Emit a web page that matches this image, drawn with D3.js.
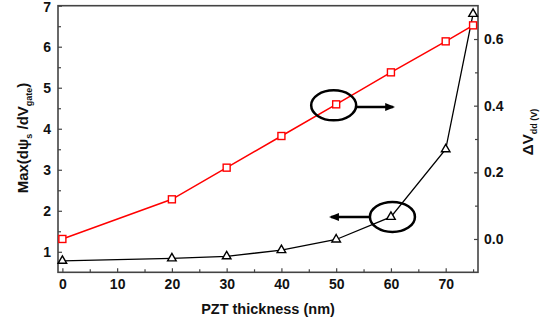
<!DOCTYPE html>
<html><head><meta charset="utf-8">
<script src="https://cdn.jsdelivr.net/npm/d3@7"></script>
<style>
body{margin:0;background:#fff;}
text{font-family:"Liberation Sans",Arial,sans-serif;font-weight:bold;}
</style></head>
<body><svg id="c" width="552" height="324"></svg>
<script>
const thickness = [0, 20, 30, 40, 50, 60, 70, 75];
const maxSlope = [0.78, 0.84, 0.89, 1.04, 1.30, 1.85, 3.50, 6.80];
const deltaVdd = [0.0, 0.119, 0.214, 0.309, 0.404, 0.50, 0.593, 0.641];
const xTicks = [0, 10, 20, 30, 40, 50, 60, 70];
const yLeftTicks = [1, 2, 3, 4, 5, 6, 7];
const yRightTicks = [0.0, 0.2, 0.4, 0.6];

const svg = d3.select("#c");
const L = 58, R = 478, T = 5.7, B = 272.3;
const x = d3.scaleLinear().domain([-0.8, 75.9]).range([L, R]);
const yL = d3.scaleLinear().domain([0.5, 7]).range([B, T]);
const yR = d3.scaleLinear().domain([-0.1, 0.7]).range([B, T]);
const axisColor = "#444";

// frame
svg.append("rect").attr("x", L).attr("y", T).attr("width", R - L).attr("height", B - T)
  .attr("fill", "none").attr("stroke", axisColor).attr("stroke-width", 1.6);

function styleAxis(g){
  g.select(".domain").remove();
  g.selectAll(".tick line").attr("stroke", axisColor).attr("stroke-width", 1.2);
  g.selectAll(".tick text").attr("fill", "#111").attr("font-size", 14);
}

// x axis
const gx = svg.append("g").attr("transform", `translate(0,${B})`)
  .call(d3.axisBottom(x).tickValues(xTicks).tickSize(-4).tickPadding(7).tickFormat(d3.format("d")));
styleAxis(gx);
const gxm = svg.append("g").attr("transform", `translate(0,${B})`)
  .call(d3.axisBottom(x).tickValues(d3.range(5, 76, 10)).tickSize(-3).tickFormat(""));
styleAxis(gxm);

// left axis
const gl = svg.append("g").attr("transform", `translate(${L},0)`)
  .call(d3.axisLeft(yL).tickValues(yLeftTicks).tickSize(-4).tickPadding(7).tickFormat(d3.format("d")));
styleAxis(gl);
gl.selectAll(".tick text").filter(d => d === 7).attr("y", 1.5);
const glm = svg.append("g").attr("transform", `translate(${L},0)`)
  .call(d3.axisLeft(yL).tickValues(d3.range(1.5, 7, 1)).tickSize(-3).tickFormat(""));
styleAxis(glm);

// right axis
const gr = svg.append("g").attr("transform", `translate(${R},0)`)
  .call(d3.axisRight(yR).tickValues(yRightTicks).tickSize(-4).tickPadding(6).tickFormat(d3.format(".1f")));
styleAxis(gr);
const grm = svg.append("g").attr("transform", `translate(${R},0)`)
  .call(d3.axisRight(yR).tickValues([0.1, 0.3, 0.5]).tickSize(-3).tickFormat(""));
styleAxis(grm);

// lines
const red = "#ff0000";
const blackLine = d3.line().x((d, i) => x(thickness[i])).y(d => yL(d));
const redLine = d3.line().x((d, i) => x(thickness[i])).y(d => yR(d));
svg.append("path").attr("d", redLine(deltaVdd)).attr("fill", "none").attr("stroke", red).attr("stroke-width", 1.5);
svg.append("path").attr("d", blackLine(maxSlope)).attr("fill", "none").attr("stroke", "#000").attr("stroke-width", 1.3);

// markers
svg.selectAll("rect.sq").data(deltaVdd).enter().append("rect").attr("class", "sq")
  .attr("x", (d, i) => x(thickness[i]) - 3.5).attr("y", d => yR(d) - 3.5)
  .attr("width", 7).attr("height", 7).attr("fill", "#fff").attr("stroke", red).attr("stroke-width", 1.4);
const tri = d3.symbol().type(d3.symbolTriangle).size(32);
svg.selectAll("path.tr").data(maxSlope).enter().append("path").attr("class", "tr")
  .attr("d", tri).attr("transform", (d, i) => `translate(${x(thickness[i])},${yL(d)})`)
  .attr("fill", "#fff").attr("stroke", "#000").attr("stroke-width", 1.4);

// annotations: ellipses & arrows
const defs = svg.append("defs");
defs.append("marker").attr("id", "ah").attr("viewBox", "0 0 10 10").attr("refX", 8).attr("refY", 5)
  .attr("markerWidth", 4).attr("markerHeight", 4).attr("orient", "auto")
  .append("path").attr("d", "M0,1 L10,5 L0,9 Z").attr("fill", "#000");
svg.append("ellipse").attr("cx", x(50) - 2.5).attr("cy", yR(0.404) + 1).attr("rx", 22.5).attr("ry", 15)
  .attr("fill", "none").attr("stroke", "#000").attr("stroke-width", 2.5);
svg.append("line").attr("x1", x(50) + 20).attr("y1", yR(0.404) + 2.7).attr("x2", x(50) + 57).attr("y2", yR(0.404) + 2.7)
  .attr("stroke", "#000").attr("stroke-width", 2.5).attr("marker-end", "url(#ah)");
svg.append("ellipse").attr("cx", x(60) + 1.5).attr("cy", yL(1.85)).attr("rx", 22.5).attr("ry", 15)
  .attr("fill", "none").attr("stroke", "#000").attr("stroke-width", 2.5);
svg.append("line").attr("x1", x(60) - 21).attr("y1", yL(1.85)).attr("x2", x(60) - 60).attr("y2", yL(1.85))
  .attr("stroke", "#000").attr("stroke-width", 2.5).attr("marker-end", "url(#ah)");

// axis titles
svg.append("text").attr("x", 268).attr("y", 314).attr("text-anchor", "middle").attr("font-size", 14.5)
  .attr("fill", "#111").text("PZT thickness (nm)");
const lt = svg.append("text").attr("transform", "translate(28,138) rotate(-90)").attr("text-anchor", "middle")
  .attr("font-size", 15).attr("fill", "#111");
lt.append("tspan").text("Max(dψ");
lt.append("tspan").attr("font-size", 9).attr("dy", 4).text("s");
lt.append("tspan").attr("dy", -4).text(" /dV");
lt.append("tspan").attr("font-size", 9).attr("dy", 4).text("gate");
lt.append("tspan").attr("dy", -4).text(")");
const rt = svg.append("text").attr("transform", "translate(533,132) rotate(-90)").attr("text-anchor", "middle")
  .attr("font-size", 15).attr("fill", "#111");
rt.append("tspan").text("ΔV");
rt.append("tspan").attr("font-size", 9).attr("dy", 4).text("dd (V)");
</script></body></html>
